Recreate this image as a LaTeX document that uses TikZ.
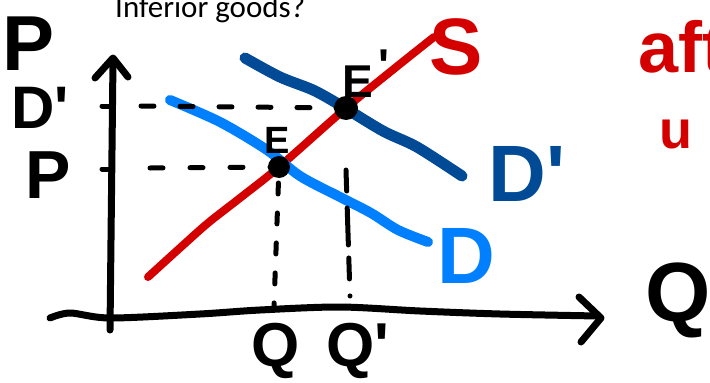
\documentclass[tikz,border=0pt]{standalone}
\usepackage{fontspec}
\setmainfont{Carlito}
\newfontfamily\handfont{Liberation Sans}
\usetikzlibrary{positioning}
\definecolor{sred}{RGB}{212,0,0}
\definecolor{dlight}{RGB}{0,128,255}
\definecolor{ddark}{RGB}{0,74,150}
\tikzset{
  axis/.style={line width=7pt,line cap=round,line join=round},
  curve/.style={line width=10pt,line cap=round,line join=round},
  guide/.style={line width=5pt,line cap=round},
  eqdot/.style={circle,fill,inner sep=0pt,minimum size=22pt},
  hand/.style={inner sep=0pt},
}
\newcommand{\handsz}[1]{\handfont\bfseries\fontsize{#1}{#1}\selectfont}

\begin{document}
\begin{tikzpicture}[x=1pt,y=-1pt]
  \useasboundingbox (0,0) rectangle (710,383);
  \clip (0,0) rectangle (710,383);
  % title
  \node[anchor=base west,inner sep=0pt,font=\fontsize{31}{31}\selectfont] (title) at (115,17) {Inferior goods?};
  % axes
  \draw[axis] (110,330) -- (113,60);
  \draw[axis] (95,78) -- (113,58) -- (128,77);
  \draw[axis] plot[smooth] coordinates {(50,318) (70,313) (110,318) (200,314) (260,310) (340,307) (420,311) (500,314) (598,316)};
  \draw[axis] (579,297) -- (601,318) -- (581,342);
  % ticks on the price axis
  \coordinate (tPp) at (102,106);
  \coordinate (tP) at (102,169);
  \draw[guide] (tPp) -- (112,106);
  \draw[guide] (tP) -- (112,169);
  % equilibria
  \coordinate (E) at (279,167);
  \coordinate (Ep) at (346,108);
  % curves
  \draw[curve,sred,line width=8pt] plot[smooth] coordinates {(148,277) (181,247) (208,223) (240,198) (279,167) (346,108) (400,64) (434,37)};
  \draw[curve,dlight] plot[smooth] coordinates {(170,100) (220,122) (267,150) (300,176) (340,197) (371,213) (398,230) (428,242)};
  \draw[curve,ddark,line width=11pt] plot[smooth] coordinates {(245,58) (280,77) (313,90) (340,105) (383,131) (417,147) (462,176)};
  % dashed guides
  \coordinate (gPp) at (141,106);
  \coordinate (gP) at (150,168);
  \coordinate (Qa) at (274,306);
  \coordinate (EpDrop) at (346,170);
  \coordinate (Qb) at (350,296);
  \draw[guide,dash pattern=on 13pt off 26pt] (gPp) -- (Ep);
  \draw[guide,dash pattern=on 13pt off 27pt] (gP) -- (E);
  \draw[guide,dash pattern=on 11pt off 19pt,dash phase=-16pt] (E) -- (Qa);
  \draw[guide,dash pattern=on 21pt off 17pt on 37pt off 13pt] (EpDrop) -- (Qb);
  \node[eqdot] (dotE) at (E) {};
  \node[eqdot,minimum size=24pt] (dotEp) at (Ep) {};
  % labels
  \node[hand,font=\handsz{78}] (lP) at (29,44) {P};
  \node[hand,font=\handsz{60}] (lPp) at (40,108) {D'};
  \node[hand,font=\handsz{68}] (lP2) at (48,175) {P};
  \node[hand,font=\handsz{38}] (lE) at (277,140) {E};
  \node[hand,font=\handsz{46}] (lEp) at (366,74) {E\raisebox{16pt}{\kern5pt'}};
  \node[hand,sred,font=\handsz{80}] (lS) at (456,47) {S};
  \node[hand,ddark,font=\handsz{80}] (lDp) at (527,174) {D'};
  \node[hand,dlight,font=\handsz{80}] (lD) at (466,256) {D};
  \node[hand,font=\handsz{62},anchor=north] (lQ) at (276,323) {Q};
  \node[hand,font=\handsz{62},anchor=north west] (lQp) at (326,323) {Q'};
  \node[hand,font=\handsz{84},anchor=west] (lQax) at (645,300) {Q};
  \node[hand,sred,font=\handsz{72},anchor=base west] (note) at (638,72) {after};
  \node[hand,sred,font=\handsz{54}] (ditto) at (676,134) {u};
\end{tikzpicture}
\end{document}
